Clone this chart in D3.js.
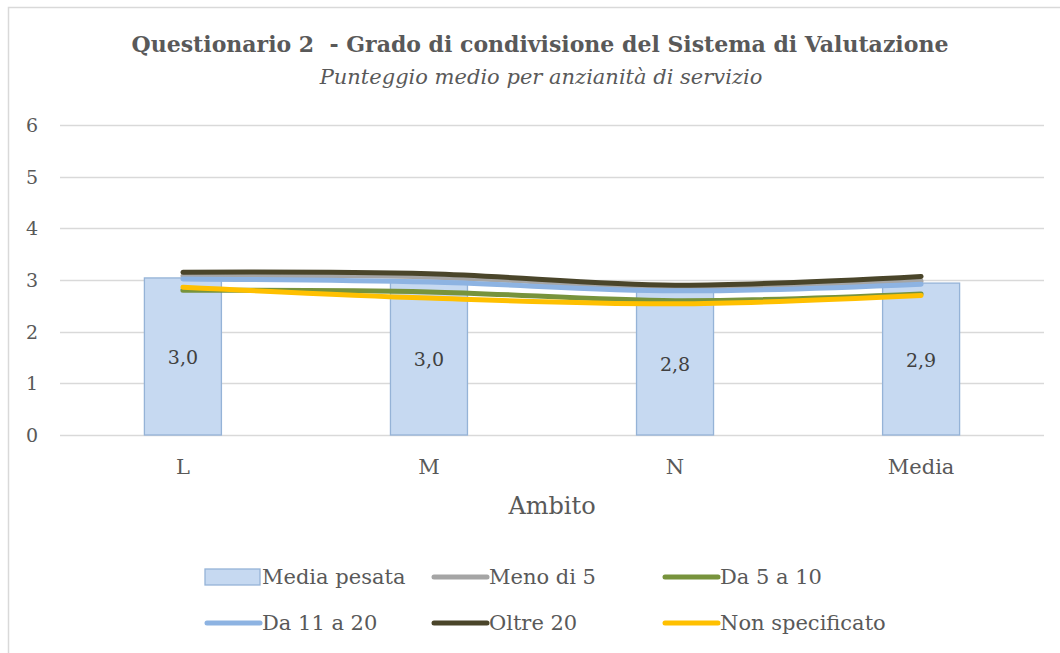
<!DOCTYPE html>
<html>
<head>
<meta charset="utf-8">
<script src="https://cdn.jsdelivr.net/npm/d3@7"></script>
<style>
  body { margin: 0; background: #fff; }
  svg { display: block; font-family: "DejaVu Serif", "Liberation Serif", serif; }
</style>
</head>
<body>
<svg id="chart" width="1060" height="653"></svg>
<script>
// data
const categories = ["L", "M", "N", "Media"];
const mediaPesata = [3.04, 3.0, 2.8, 2.94];
const menoDi5 = [3.08, 3.06, 2.85, 2.98];
const da5a10 = [2.8, 2.77, 2.6, 2.73];
const da11a20 = [3.02, 2.96, 2.79, 2.92];
const oltre20 = [3.15, 3.12, 2.9, 3.07];
const nonSpecificato = [2.86, 2.65, 2.54, 2.7];
const yTicks = [0, 1, 2, 3, 4, 5, 6];

const lineSeries = [
  {name: "Meno di 5", values: menoDi5, color: "#a5a5a5"},
  {name: "Da 5 a 10", values: da5a10, color: "#77933c"},
  {name: "Da 11 a 20", values: da11a20, color: "#8db3e2"},
  {name: "Oltre 20", values: oltre20, color: "#4a452a"},
  {name: "Non specificato", values: nonSpecificato, color: "#ffc000"}
];

const svg = d3.select("#chart");

// chart frame
svg.append("path")
  .attr("d", "M8.5,653 V7.5 H1060")
  .attr("fill", "none")
  .attr("stroke", "#d9d9d9")
  .attr("stroke-width", 1.5);

const x = d3.scaleBand().domain(categories).range([60, 1044]).paddingInner(0.687).paddingOuter(0.343);
const y = d3.scaleLinear().domain([0, 6]).range([435, 125]);

// gridlines
svg.append("g")
  .selectAll("line")
  .data(yTicks)
  .join("line")
  .attr("x1", 60).attr("x2", 1044)
  .attr("y1", d => Math.round(y(d)) + 0.5)
  .attr("y2", d => Math.round(y(d)) + 0.5)
  .attr("stroke", "#d9d9d9")
  .attr("stroke-width", 1.3);

// y labels
svg.append("g")
  .selectAll("text")
  .data(yTicks)
  .join("text")
  .attr("x", 38)
  .attr("y", d => y(d) + 7)
  .attr("text-anchor", "end")
  .attr("font-size", 19)
  .attr("fill", "#595959")
  .text(d => d);

// x labels
svg.append("g")
  .selectAll("text")
  .data(categories)
  .join("text")
  .attr("x", d => x(d) + x.bandwidth() / 2)
  .attr("y", 474)
  .attr("text-anchor", "middle")
  .attr("font-size", 21)
  .attr("fill", "#595959")
  .text(d => d);

// bars
svg.append("g")
  .selectAll("rect")
  .data(categories)
  .join("rect")
  .attr("x", d => x(d))
  .attr("width", x.bandwidth())
  .attr("y", (d, i) => y(mediaPesata[i]))
  .attr("height", (d, i) => y(0) - y(mediaPesata[i]))
  .attr("fill", "#c6d9f1")
  .attr("stroke", "#95b3d7")
  .attr("stroke-width", 1.3);

// bar labels
svg.append("g")
  .selectAll("text")
  .data(categories)
  .join("text")
  .attr("x", d => x(d) + x.bandwidth() / 2)
  .attr("y", (d, i) => (y(mediaPesata[i]) + y(0)) / 2 + 8)
  .attr("text-anchor", "middle")
  .attr("font-size", 19)
  .attr("fill", "#404040")
  .text((d, i) => d3.format(".1f")(mediaPesata[i]).replace(".", ","));

// lines
const line = d3.line()
  .x((d, i) => x(categories[i]) + x.bandwidth() / 2)
  .y(d => y(d))
  .curve(d3.curveCatmullRom.alpha(0.5));

svg.append("g")
  .selectAll("path")
  .data(lineSeries)
  .join("path")
  .attr("d", d => line(d.values))
  .attr("fill", "none")
  .attr("stroke", d => d.color)
  .attr("stroke-width", 5)
  .attr("stroke-linecap", "round");

// titles
svg.append("text")
  .attr("x", 540).attr("y", 52)
  .attr("text-anchor", "middle")
  .attr("font-size", 22)
  .attr("font-weight", "bold")
  .attr("fill", "#595959")
  .style("white-space", "pre")
  .text("Questionario 2  - Grado di condivisione del Sistema di Valutazione");

svg.append("text")
  .attr("x", 541).attr("y", 84)
  .attr("text-anchor", "middle")
  .attr("font-size", 21)
  .attr("font-style", "italic")
  .attr("fill", "#595959")
  .text("Punteggio medio per anzianità di servizio");

svg.append("text")
  .attr("x", 552).attr("y", 514)
  .attr("text-anchor", "middle")
  .attr("font-size", 24)
  .attr("fill", "#595959")
  .text("Ambito");

// legend
const legendItems = [{name: "Media pesata", bar: true}].concat(lineSeries);
const colX = [205, 432, 663];
const rowY = [577, 623];

const legend = svg.append("g")
  .selectAll("g")
  .data(legendItems)
  .join("g")
  .attr("transform", (d, i) => `translate(${colX[i % 3]},${rowY[Math.floor(i / 3)]})`);

legend.filter(d => d.bar)
  .append("rect")
  .attr("x", 0).attr("y", -8)
  .attr("width", 55).attr("height", 16)
  .attr("fill", "#c6d9f1")
  .attr("stroke", "#95b3d7")
  .attr("stroke-width", 1.3);

legend.filter(d => !d.bar)
  .append("line")
  .attr("x1", 2).attr("x2", 55)
  .attr("stroke", d => d.color)
  .attr("stroke-width", 5)
  .attr("stroke-linecap", "round");

legend.append("text")
  .attr("x", 57).attr("y", 7)
  .attr("font-size", 21)
  .attr("fill", "#595959")
  .text(d => d.name);
</script>
</body>
</html>
